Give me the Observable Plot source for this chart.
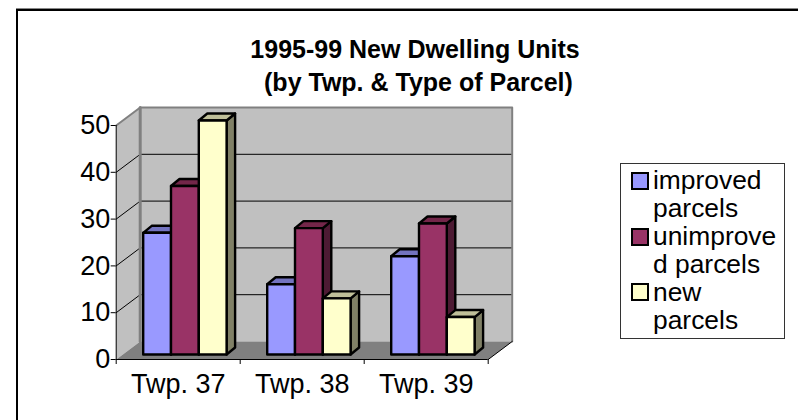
<!DOCTYPE html>
<html><head><meta charset="utf-8">
<script src="https://cdn.jsdelivr.net/npm/d3@7"></script>
<script src="https://cdn.jsdelivr.net/npm/@observablehq/plot@0.6"></script>
<style>
html,body{margin:0;padding:0;background:#fff}
#chart{position:relative;width:798px;height:420px;overflow:hidden;font-family:"Liberation Sans",Arial,sans-serif}
#chart svg{position:absolute;left:0;top:0}
#title{position:absolute;left:115px;width:600px;top:33px;text-align:center;font-weight:bold;font-size:25px;line-height:33px;color:#000}
#frame{position:absolute;left:16px;top:9px;width:790px;height:409px;border-left:2px solid #000;border-top:2px solid #000;border-bottom:2px solid #999;box-shadow:0 -1px 0 #888}
#legend{position:absolute;left:620px;top:163px;width:165px;height:176px;border:1px solid #333;box-sizing:border-box;background:#fff;font-size:26.4px;line-height:28px;color:#000}
.it{position:absolute;left:32px;white-space:nowrap}
.sw{position:absolute;left:10px;width:14px;height:14px;border:2px solid #000;box-sizing:content-box}
</style></head><body>
<div id="chart">
<div id="frame"></div>
<div id="title">1995-99 New Dwelling Units<br>&nbsp;(by Twp. &amp; Type of Parcel)</div>
<div id="legend"></div>
</div>
<script>
const categories = ["Twp. 37","Twp. 38","Twp. 39"];
const seriesNames = ["improved parcels","unimproved parcels","new parcels"];
const legendLines = [["improved","parcels"],["unimprove","d parcels"],["new","parcels"]];
const improved = [26,15,21];
const unimproved = [36,27,28];
const newParcels = [50,12,8];
const yTicks = [0,10,20,30,40,50];
const frontFill = ["#9999ff","#993366","#ffffcc"];
const topFill = ["#7373bf","#732649","#bfbf99"];
const sideFill = ["#666699","#4d1a33","#808066"];

const seriesValues = [improved,unimproved,newParcels];
const pxX = 124, pxY = 234/50;            // pixels per unit
const wallX = 24/pxX, wallY = 18/pxY;     // depth of the plot box
const barDX = 8.5/pxX, barDY = 7/pxY;     // depth of a bar
const liftY = 5/pxY;                      // bar base inside the floor
const barStart = 27/pxX, barW = 27.8/pxX;

const poly = (pts, o) => Plot.line(pts, {x:"0", y:"1", curve:"linear-closed", ...o});

const bars = categories.flatMap((c,i) => seriesValues.flatMap((vals,s) => {
  const x0 = i + barStart + s*barW, x1 = x0 + barW;
  const y0 = liftY, y1 = vals[i] + liftY;
  const st = {stroke:"#000", strokeWidth:2.4, strokeLinejoin:"round"};
  return [
    poly([[x1,y0],[x1+barDX,y0+barDY],[x1+barDX,y1+barDY],[x1,y1]], {fill:sideFill[s], ...st}),
    poly([[x0,y1],[x1,y1],[x1+barDX,y1+barDY],[x0+barDX,y1+barDY]], {fill:topFill[s], ...st}),
    poly([[x0,y0],[x1,y0],[x1,y1],[x0,y1]], {fill:frontFill[s], ...st})
  ];
}));

const n = categories.length;
const plot = Plot.plot({
  width:798, height:420,
  marginLeft:0, marginRight:0, marginTop:0, marginBottom:0,
  style:{background:"transparent"},
  x:{type:"linear", domain:[-115.7/pxX,(798-115.7)/pxX], range:[0,798], axis:null},
  y:{type:"linear", domain:[(359-420)/pxY,359/pxY], range:[420,0], axis:null},
  marks:[
    // back wall and side wall
    poly([[wallX,wallY],[n+wallX,wallY],[n+wallX,50+wallY],[wallX,50+wallY]], {fill:"#c0c0c0"}),
    poly([[0,0],[wallX,wallY],[wallX,50+wallY],[0,50]], {fill:"#c0c0c0"}),
    // floor
    poly([[0,0],[n,0],[n+wallX,wallY],[wallX,wallY]], {fill:"#808080"}),
    // gridlines on the walls
    ...yTicks.slice(1,-1).map(t => Plot.line([[0,t],[wallX,t+wallY],[n+wallX,t+wallY]], {x:"0",y:"1",stroke:"#000",strokeWidth:1})),
    Plot.line([[0,50],[wallX,50+wallY],[n+wallX,50+wallY],[n+wallX,wallY]], {x:"0",y:"1",stroke:"#808080",strokeWidth:2}),
    Plot.line([[wallX,wallY],[wallX,50+wallY]], {x:"0",y:"1",stroke:"#808080",strokeWidth:3}),
    Plot.line([[n,0],[n+wallX,wallY]], {x:"0",y:"1",stroke:"#000",strokeWidth:1}),
    ...bars,
    // axes
    Plot.ruleX([0],{y1:0,y2:50,stroke:"#000",strokeWidth:1}),
    Plot.ruleY([0],{x1:0,x2:n,stroke:"#000",strokeWidth:1}),
    Plot.ruleY(yTicks,{x1:-5/pxX,x2:0,stroke:"#000",strokeWidth:1}),
    Plot.ruleX(d3.range(n+1),{y1:-5/pxY,y2:0,stroke:"#000",strokeWidth:1}),
    Plot.text(yTicks,{x:0,y:d=>d,text:d=>String(d),dx:-6,textAnchor:"end",fontSize:27,fontFamily:"Liberation Sans",fill:"#000"}),
    Plot.text(categories,{x:(d,i)=>i+0.5,y:0,dy:25,text:d=>d,textAnchor:"middle",fontSize:27,fontFamily:"Liberation Sans",fill:"#000"})
  ]
});
document.getElementById("chart").insertBefore(plot, document.getElementById("title"));
const lg = document.getElementById("legend");
legendLines.forEach((lines,s) => {
  const sw = document.createElement("div"); sw.className="sw";
  sw.style.top = (8+s*55.5)+"px"; sw.style.background = frontFill[s];
  lg.appendChild(sw);
  lines.forEach((t,j)=>{
    const d = document.createElement("div"); d.className="it";
    d.style.top = (2+(s*2+j)*28)+"px"; d.textContent = t;
    lg.appendChild(d);
  });
});
</script>
</body></html>
